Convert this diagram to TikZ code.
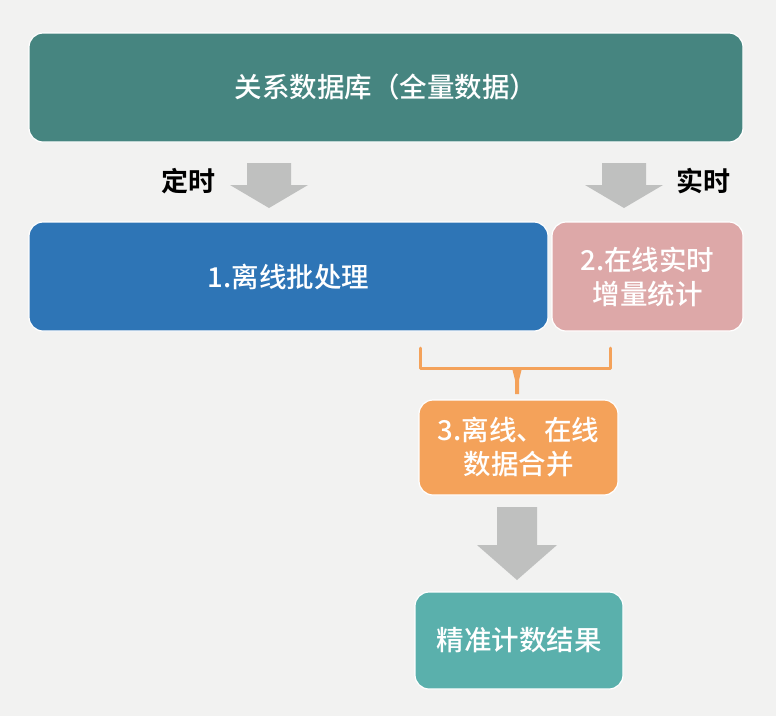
\documentclass[tikz,border=0pt]{standalone}
\usepackage{fontspec}
\usetikzlibrary{calc}
\setmainfont{Noto Sans CJK SC Medium}[BoldFont={Noto Sans CJK SC Bold}]
\definecolor{bgc}{HTML}{F2F2F1}
\definecolor{topc}{HTML}{468580}
\definecolor{bluec}{HTML}{2E75B6}
\definecolor{pinkc}{HTML}{DDA8A8}
\definecolor{orangec}{HTML}{F4A25A}
\definecolor{tealc}{HTML}{5AB0AC}
\definecolor{arrc}{HTML}{BFC0BF}
\begin{document}
\begin{tikzpicture}[x=1pt,y=-1pt,
  box/.style={draw=white,line width=1.2pt,rounded corners=14pt,text=white,align=center,font=\fontsize{27.5}{34}\selectfont,inner sep=0pt},
  lbl/.style={font=\fontsize{27}{32}\selectfont\bfseries,text=black,inner sep=0pt},
  bigarrow/.style={fill=arrc,draw=none}]
\fill[bgc] (0,0) rectangle (776,716);
\useasboundingbox (0,0) rectangle (776,716);
% boxes
\node[box,fill=topc,minimum width=714pt,minimum height=109pt] (db) at (386,87.5) {关系数据库（全量数据）};
\node[box,fill=bluec,minimum width=519pt,minimum height=109pt] (b1) at (288.5,276.5) {1.离线批处理};
\node[box,fill=pinkc,minimum width=191pt,minimum height=109pt] (b2) at (647.5,276.5) {2.在线实时\\增量统计};
\node[box,fill=orangec,minimum width=199pt,minimum height=95pt] (b3) at (518.5,447.5) {3.离线、在线\\数据合并};
\node[box,fill=tealc,minimum width=208pt,minimum height=97pt] (b4) at (519,640.5) {精准计数结果};
% labels
\node[lbl] (l1) at (188,181) {定时};
\node[lbl] (l2) at (703,181) {实时};
% big arrows
\coordinate (a1) at (269,163);
\coordinate (a2) at (624,163);
\coordinate (a3) at (517,507);
\fill[bigarrow] ($(a1)+(-22,0)$) -- ++(44,0) -- ++(0,22) -- ++(17,0) -- ($(a1)+(0,45)$) -- ($(a1)+(-39,22)$) -- ++(17,0) -- cycle;
\fill[bigarrow] ($(a2)+(-22,0)$) -- ++(44,0) -- ++(0,22) -- ++(17,0) -- ($(a2)+(0,45)$) -- ($(a2)+(-39,22)$) -- ++(17,0) -- cycle;
\fill[bigarrow] ($(a3)+(-20,0)$) -- ++(40,0) -- ++(0,38) -- ++(20,0) -- ($(a3)+(0,73)$) -- ($(a3)+(-40,38)$) -- ++(20,0) -- cycle;
% bracket
\coordinate (bl) at (420,348);
\coordinate (br) at (610,348);
\coordinate (bm) at (517,368);
\draw[orangec,line width=3pt,line cap=round,line join=round] (bl) -- (420,368) -- (610,368) -- (br);
\fill[orangec] (512,368) -- (522,368) -- (519,380) -- (519,394) -- (515,394) -- (515,380) -- cycle;
\end{tikzpicture}
\end{document}
